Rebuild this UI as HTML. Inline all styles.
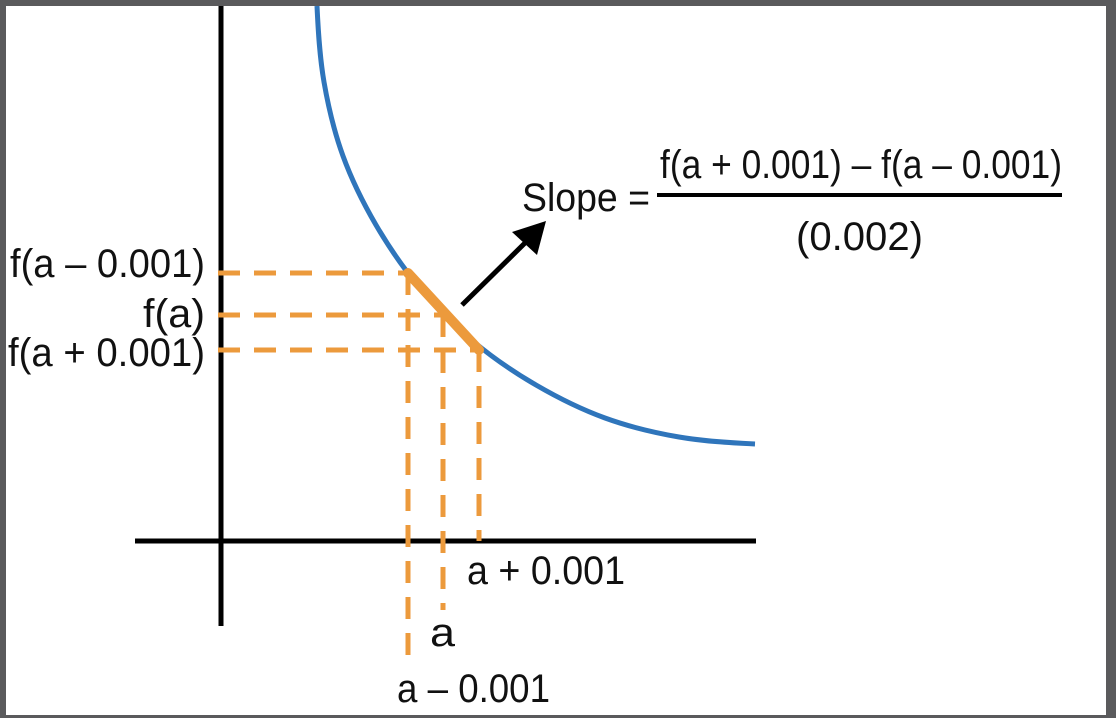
<!DOCTYPE html>
<html><head><meta charset="utf-8"><style>
html,body{margin:0;padding:0;background:#5a5a5c;}
#frame{position:absolute;left:6px;top:6px;width:1100px;height:709px;background:#fff;}
svg{position:absolute;left:0;top:0}
text{font-family:"Liberation Sans",sans-serif;font-size:40px;fill:#111;}
</style></head><body>
<div id="frame"></div>
<svg id="chart" width="1116" height="718">
<line x1="221" y1="6" x2="221" y2="626" stroke="#000" stroke-width="5"/>
<line x1="135" y1="541" x2="756" y2="541" stroke="#000" stroke-width="5"/>
<g id="curveG"></g>
<g id="guides"></g>
<line x1="462" y1="305" x2="528" y2="240" stroke="#000" stroke-width="5"/>
<polygon points="546,221 512,232 537,255" fill="#000"/>
<text x="205" y="277" text-anchor="end" textLength="195" lengthAdjust="spacingAndGlyphs">f(a – 0.001)</text>
<text x="205" y="327" text-anchor="end" textLength="62" lengthAdjust="spacingAndGlyphs">f(a)</text>
<text x="205" y="366" text-anchor="end" textLength="197" lengthAdjust="spacingAndGlyphs">f(a + 0.001)</text>
<text x="467" y="584" textLength="158" lengthAdjust="spacingAndGlyphs">a + 0.001</text>
<text x="430" y="646" textLength="25" lengthAdjust="spacingAndGlyphs">a</text>
<text x="397" y="702" textLength="153" lengthAdjust="spacingAndGlyphs">a – 0.001</text>
<text x="522" y="211" textLength="128" lengthAdjust="spacingAndGlyphs">Slope =</text>
<text x="660" y="178" textLength="402" lengthAdjust="spacingAndGlyphs">f(a + 0.001) – f(a – 0.001)</text>
<line x1="657" y1="195" x2="1062" y2="195" stroke="#000" stroke-width="4"/>
<text x="796" y="250" textLength="127" lengthAdjust="spacingAndGlyphs">(0.002)</text>
</svg>
<script>
// curve samples (x, y in plot pixel space)
const curveX=[317,324,343,376,420,474,536,605,679,755];
const curveY=[6,82,156,225,288,342,385,418,437,444];
// the three sample points: a-0.001, a, a+0.001
const pointX=[408,443,479];
const pointY=[273,315,350];
const yAxisX=218;
const xAxisBottoms=[660,610,541];
const NS="http://www.w3.org/2000/svg";
const cg=document.getElementById('curveG');
let d="M"+curveX[0]+","+curveY[0];
for(let i=1;i<curveX.length;i++){
  const x0=curveX[i-1],y0=curveY[i-1],x1=curveX[i],y1=curveY[i];
  const xp=i>=2?curveX[i-2]:x0-(x1-x0)*0.02,yp=i>=2?curveY[i-2]:y0-(y1-y0);
  const xn=i+1<curveX.length?curveX[i+1]:x1+(x1-x0),yn=i+1<curveX.length?curveY[i+1]:y1+(y1-y0)*0.02;
  d+=" C"+(x0+(x1-xp)/6)+","+(y0+(y1-yp)/6)+" "+(x1-(xn-x0)/6)+","+(y1-(yn-y0)/6)+" "+x1+","+y1;
}
const cp=document.createElementNS(NS,'path');
cp.setAttribute('d',d);cp.setAttribute('fill','none');cp.setAttribute('stroke','#2f75bb');cp.setAttribute('stroke-width','5');


cg.appendChild(cp);
const g=document.getElementById('guides');
for(let i=0;i<pointX.length;i++){
  const h=document.createElementNS(NS,'line');
  h.setAttribute('x1',yAxisX);h.setAttribute('y1',pointY[i]);h.setAttribute('x2',pointX[i]);h.setAttribute('y2',pointY[i]);
  h.setAttribute('stroke','#ec9a3c');h.setAttribute('stroke-width','5');h.setAttribute('stroke-dasharray','22 14');
  
  
  g.appendChild(h);
  const v=document.createElementNS(NS,'line');
  v.setAttribute('x1',pointX[i]);v.setAttribute('y1',pointY[i]);v.setAttribute('x2',pointX[i]);v.setAttribute('y2',xAxisBottoms[i]);
  v.setAttribute('stroke','#ec9a3c');v.setAttribute('stroke-width','5');v.setAttribute('stroke-dasharray','22 14');
  
  
  g.appendChild(v);
}
const sec=document.createElementNS(NS,'line');
sec.setAttribute('x1',pointX[0]);sec.setAttribute('y1',pointY[0]);sec.setAttribute('x2',pointX[2]);sec.setAttribute('y2',pointY[2]);
sec.setAttribute('stroke','#ec9a3c');sec.setAttribute('stroke-width','10');sec.setAttribute('stroke-linecap','round');


g.appendChild(sec);
</script>
</body></html>
